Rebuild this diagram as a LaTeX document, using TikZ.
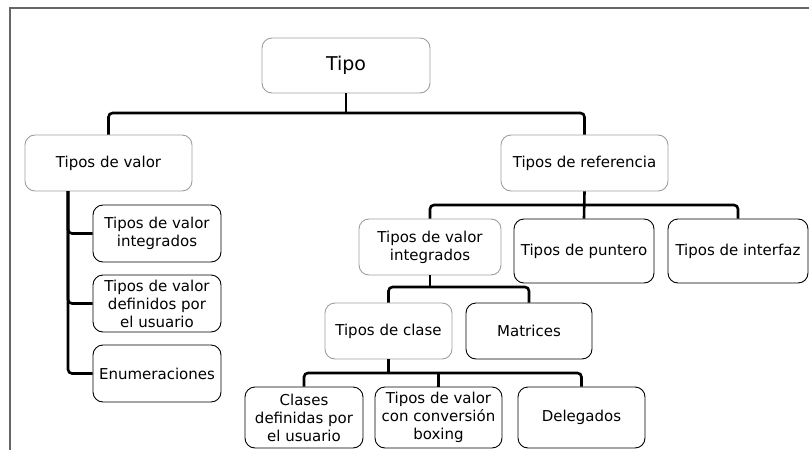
\documentclass[tikz,border=0pt]{standalone}
\usepackage{fontspec}
\setmainfont{DejaVu Sans}
\usetikzlibrary{positioning, calc}

\begin{document}
\begin{tikzpicture}[
    x=1pt, y=-1pt,
    font=\fontsize{15}{18}\selectfont,
    box/.style={draw, rounded corners=10pt, align=center,
                inner sep=1pt, line width=0.9pt},
    gbox/.style={box, draw=black!38},
    bbox/.style={box, draw=black},
    link/.style={line width=2.6pt, rounded corners=4pt},
    frame/.style={draw=black!60, line width=1.2pt},
]
    \useasboundingbox (0,0) rectangle (809,450);

    % --- outer frame (cropped) ---
    \coordinate (ftl) at (10,8);
    \draw[frame] (ftl |- 0,450) -- (ftl) -- (809,8);

    % --- Nodes ---
    \node[gbox, minimum width=168, minimum height=55,
          font=\fontsize{19}{22}\selectfont] (tipo) at (346,65.5) {Tipo};

    \node[gbox, minimum width=167, minimum height=56] (valor) at (108.5,163) {Tipos de valor};
    \node[gbox, minimum width=167, minimum height=56] (ref)   at (584.5,163) {Tipos de referencia};

    \node[bbox, minimum width=128, minimum height=57] (vint) at (157,233.5) {Tipos de valor\\integrados};
    \node[bbox, minimum width=128, minimum height=57] (vdef) at (157,303.5) {Tipos de valor\\definidos por\\el usuario};
    \node[bbox, minimum width=128, minimum height=57] (enum) at (157,373.5) {Enumeraciones};

    \node[gbox, minimum width=142, minimum height=56] (rint) at (430,247) {Tipos de valor\\integrados};
    \node[bbox, minimum width=140, minimum height=64] (punt) at (584,251) {Tipos de puntero};
    \node[bbox, minimum width=140, minimum height=64] (intf) at (738,251) {Tipos de interfaz};

    \node[gbox, minimum width=127, minimum height=56] (clase) at (388.5,331) {Tipos de clase};
    \node[bbox, minimum width=126, minimum height=56] (matr)  at (529,331) {Matrices};

    \node[bbox, minimum width=118, minimum height=61] (cdef)   at (304,417.5) {Clases\\definidas por\\el usuario};
    \node[bbox, minimum width=127, minimum height=61] (boxing) at (438.5,417.5) {Tipos de valor\\con conversión\\boxing};
    \node[bbox, minimum width=127, minimum height=61] (deleg)  at (581.5,417.5) {Delegados};

    % --- junction points of the tree ---
    \coordinate (tbar) at (346,113);
    \coordinate (rbar) at (584.5,205);
    \coordinate (ibar) at (430,287);
    \coordinate (cbar) at (388.5,373);
    \coordinate (vtop) at (68,191);

    % --- Tree links ---
    \draw[link] (tipo.south) -- (tbar);
    \draw[link] (valor.north) |- (tbar) -| (ref.north);

    \draw[link] (vtop) |- (vint.west);
    \draw[link] (vtop) |- (vdef.west);
    \draw[link] (vtop) |- (enum.west);

    \draw[link] (ref.south) -- (punt.north);
    \draw[link] (rint.north) |- (rbar) -| (intf.north);

    \draw[link] (rint.south) -- (ibar);
    \draw[link] (clase.north) |- (ibar) -| (matr.north);

    \draw[link] (clase.south) -- (cbar);
    \draw[link] (cdef.north) |- (cbar) -| (deleg.north);
    \draw[link] (cbar -| boxing.north) -- (boxing.north);
\end{tikzpicture}
\end{document}
